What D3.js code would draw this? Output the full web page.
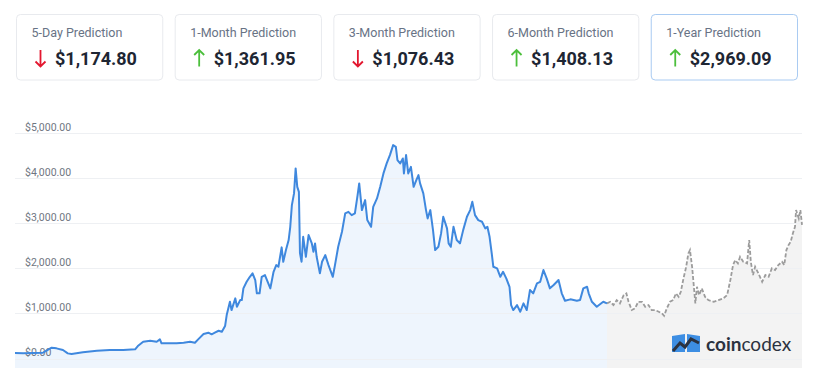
<!DOCTYPE html>
<html>
<head>
<meta charset="utf-8">
<script src="https://cdn.jsdelivr.net/npm/d3@7"></script>
<style>
  html, body { margin: 0; padding: 0; background: #fff; }
  svg { display: block; font-family: Roboto, "Noto Sans", sans-serif; }
</style>
</head>
<body>
<div id="chart"></div>
<script>
// prediction cards
const cardTitles = ["5-Day Prediction", "1-Month Prediction", "3-Month Prediction", "6-Month Prediction", "1-Year Prediction"];
const cardValues = ["$1,174.80", "$1,361.95", "$1,076.43", "$1,408.13", "$2,969.09"];
const cardUp = [false, true, false, true, true];

// price axis
const yTicks = [0, 1000, 2000, 3000, 4000, 5000];

// day offsets from startDate, price in USD
const startDate = new Date(2019, 11, 7);
const totalDays = 1461;

const history = [
  [0, 122], [15, 115], [52, 129], [68, 240], [77, 226], [89, 189], [98, 115], [105, 100],
  [126, 138], [152, 173], [176, 189], [201, 189], [223, 204], [228, 277], [238, 373], [251, 395],
  [263, 373], [269, 426], [272, 337], [288, 337], [300, 337], [313, 351], [325, 373], [334, 351],
  [340, 426], [350, 544], [359, 573], [365, 537], [371, 573], [378, 617], [384, 595], [390, 721],
  [393, 965], [399, 1260], [402, 1076], [409, 1336], [412, 1149], [418, 1298], [421, 1298], [424, 1558],
  [430, 1704], [436, 1815], [441, 1891], [446, 1742], [449, 1447], [454, 1447], [458, 1815], [464, 1853],
  [474, 1558], [480, 1926], [485, 2075], [489, 2037], [495, 2468], [498, 2148], [503, 2408], [508, 2630],
  [511, 2925], [514, 3406], [518, 3666], [521, 4221], [524, 3812], [527, 3701], [529, 2341], [532, 2148],
  [535, 2703], [540, 2259], [545, 2740], [551, 2556], [554, 2370], [557, 2556], [560, 2259], [566, 1891],
  [570, 2148], [576, 2297], [582, 2075], [590, 1815], [594, 2075], [600, 2481], [607, 2814], [613, 3222],
  [619, 3257], [625, 3184], [631, 3222], [636, 3628], [639, 3888], [644, 3295], [650, 3517], [654, 3073],
  [661, 2925], [665, 3368], [672, 3555], [678, 3812], [684, 4110], [690, 4332], [696, 4516], [702, 4738],
  [707, 4700], [710, 4405], [715, 4332], [720, 4442], [722, 4110], [726, 4516], [730, 4110], [735, 4256],
  [740, 3812], [745, 3961], [749, 4072], [752, 3888], [758, 3666], [763, 3295], [766, 3111], [771, 3295],
  [776, 2851], [780, 2408], [786, 2481], [791, 2778], [795, 3147], [802, 2889], [805, 2556], [809, 2481],
  [814, 2925], [820, 2630], [826, 2556], [832, 2851], [839, 3147], [845, 3295], [849, 3479], [854, 3184],
  [860, 3073], [867, 3036], [873, 2889], [877, 2925], [881, 2703], [885, 2334], [888, 2037], [895, 2002],
  [901, 1815], [906, 1926], [912, 1780], [918, 1593], [921, 1187], [925, 1076], [932, 1187], [938, 1039],
  [944, 1225], [950, 1076], [956, 1520], [962, 1447], [969, 1669], [975, 1704], [981, 1964], [987, 1780],
  [993, 1558], [1000, 1631], [1009, 1742], [1015, 1447], [1021, 1283], [1031, 1314], [1043, 1283], [1049, 1298],
  [1055, 1558], [1062, 1593], [1065, 1447], [1071, 1260], [1080, 1149], [1092, 1260], [1099, 1225]
];

const forecast = [
  [1099, 1225], [1105, 1260], [1111, 1187], [1117, 1298], [1123, 1225], [1130, 1409], [1135, 1447], [1139, 1260],
  [1145, 1076], [1151, 1114], [1157, 1260], [1164, 1260], [1170, 1149], [1176, 1187], [1182, 1076], [1188, 1076],
  [1195, 1039], [1201, 1003], [1205, 950], [1210, 1114], [1216, 1260], [1222, 1298], [1227, 1447], [1232, 1371],
  [1236, 1482], [1241, 1780], [1246, 2037], [1250, 2334], [1253, 2408], [1257, 2037], [1260, 1631], [1263, 1225],
  [1266, 1593], [1270, 1409], [1275, 1558], [1281, 1371], [1287, 1298], [1297, 1260], [1306, 1298], [1315, 1336],
  [1322, 1409], [1328, 1742], [1333, 2075], [1337, 2186], [1342, 2113], [1346, 2259], [1352, 2148], [1359, 2113],
  [1363, 2630], [1366, 2148], [1370, 1853], [1374, 2037], [1380, 1891], [1387, 1704], [1393, 1853], [1399, 1815],
  [1405, 2002], [1411, 1964], [1417, 2075], [1424, 2148], [1428, 2075], [1432, 2408], [1436, 2519], [1440, 2592],
  [1444, 2778], [1448, 2925], [1450, 3295], [1455, 3111], [1458, 3295], [1461, 2969]
];

const width = 825, height = 389;

const svg = d3.select("#chart")
  .append("svg")
  .attr("width", width)
  .attr("height", height);

// ---------- cards ----------
const cardX = d3.scaleBand()
  .domain(cardTitles)
  .range([16, 798])
  .paddingInner(0.072);

const card = svg.selectAll(".card")
  .data(cardTitles)
  .enter().append("g")
  .attr("class", "card")
  .attr("transform", d => `translate(${cardX(d)},14.5)`);

card.append("rect")
  .attr("x", 0.5).attr("y", 0)
  .attr("width", cardX.bandwidth() - 1)
  .attr("height", 65.5)
  .attr("rx", 4)
  .attr("fill", "#fff")
  .attr("stroke", (d, i) => i === 4 ? "#a9cbf2" : "#e8eaee")
  .attr("stroke-width", 1);

card.append("text")
  .attr("x", 15.5)
  .attr("y", 22.5)
  .attr("font-size", 12.5)
  .attr("fill", "#687385")
  .text(d => d);

// arrows
card.append("path")
  .attr("d", (d, i) => cardUp[i]
    ? "M24.5,35.5 L24.5,52 M19.5,40.5 L24.5,35.5 L29.5,40.5"
    : "M24.5,35.5 L24.5,52 M19.5,47 L24.5,52 L29.5,47")
  .attr("fill", "none")
  .attr("stroke", (d, i) => cardUp[i] ? "#4cbf3c" : "#e3172f")
  .attr("stroke-width", 1.8);

card.append("text")
  .attr("x", 39)
  .attr("y", 50.5)
  .attr("font-size", 18)
  .attr("font-weight", 700)
  .attr("fill", "#1e2633")
  .text((d, i) => cardValues[i]);

// ---------- chart ----------
const xScale = d3.scaleTime()
  .domain([startDate, d3.timeDay.offset(startDate, totalDays)])
  .range([15, 802]);

const yScale = d3.scaleLinear()
  .domain([-210, 5300])
  .range([368, 119.8]);

const toDate = d => d3.timeDay.offset(startDate, d[0]);

const area = d3.area()
  .x(d => xScale(toDate(d)))
  .y0(yScale(-210))
  .y1(d => yScale(d[1]));

const line = d3.line()
  .x(d => xScale(toDate(d)))
  .y(d => yScale(d[1]));

// areas
svg.append("path")
  .datum(history)
  .attr("d", area)
  .attr("fill", "#eef5fd");

svg.append("path")
  .datum(forecast)
  .attr("d", area)
  .attr("fill", "#f3f3f3");

// grid lines + labels
svg.selectAll(".grid")
  .data(yTicks)
  .enter().append("line")
  .attr("class", "grid")
  .attr("x1", 15).attr("x2", 802)
  .attr("y1", d => Math.round(yScale(d)) + 0.5)
  .attr("y2", d => Math.round(yScale(d)) + 0.5)
  .attr("stroke", "#eef0f3")
  .attr("stroke-width", 1);

svg.selectAll(".ylabel")
  .data(yTicks)
  .enter().append("text")
  .attr("class", "ylabel")
  .attr("x", 25)
  .attr("y", d => yScale(d) - 2.5)
  .attr("font-size", 10.5)
  .attr("fill", "#6f7682")
  .text(d => "$" + d3.format(",.2f")(d));

// lines
svg.append("path")
  .datum(forecast)
  .attr("d", line)
  .attr("fill", "none")
  .attr("stroke", "#9c9c9c")
  .attr("stroke-width", 1.8)
  .attr("stroke-dasharray", "4,2");

svg.append("path")
  .datum(history)
  .attr("d", line)
  .attr("fill", "none")
  .attr("stroke", "#3f88de")
  .attr("stroke-width", 2)
  .attr("stroke-linejoin", "round");

// ---------- logo ----------
const logo = svg.append("g").attr("transform", "translate(672,334)");
logo.append("path")
  .attr("d", "M0,2 L13,0 L13,18 L0,18 Z")
  .attr("fill", "#3d8ee3");
logo.append("path")
  .attr("d", "M15,0 L28,2 L28,18 L15,18 Z")
  .attr("fill", "#3d8ee3");
logo.append("path")
  .attr("d", "M1,17 L8,9 L13,13 L19,5 L27,9")
  .attr("fill", "none")
  .attr("stroke", "#2b3240")
  .attr("stroke-width", 3);

const logoText = logo.append("text")
  .attr("x", 34)
  .attr("y", 17)
  .attr("font-family", "Lato, 'Open Sans', sans-serif")
  .attr("font-size", 19)
  .attr("fill", "#2b3240");
logoText.append("tspan").attr("font-weight", 700).text("coin");
logoText.append("tspan").attr("font-weight", 400).text("codex");
</script>
</body>
</html>
